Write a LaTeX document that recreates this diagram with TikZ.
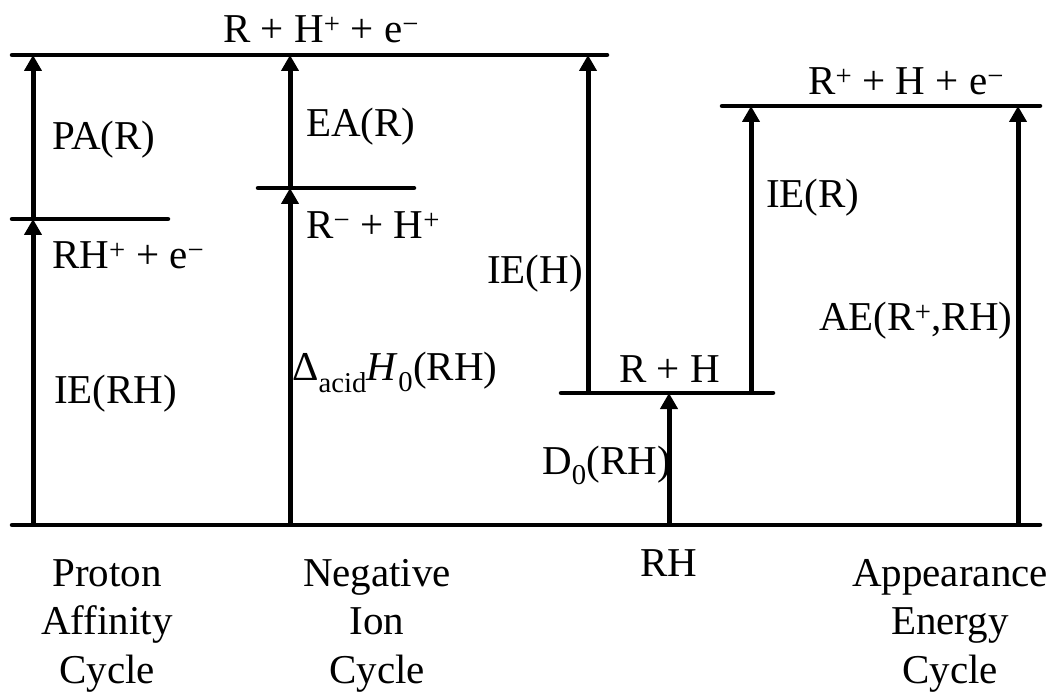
\documentclass[tikz,border=0pt]{standalone}
\usepackage{fontspec}
\setmainfont{Liberation Serif}
\usetikzlibrary{arrows.meta}
\begin{document}
\begin{tikzpicture}[x=1pt,y=-1pt,
  level/.style={line width=4.5pt, line cap=round},
  arr/.style={line width=5pt, -{Triangle[length=16pt,width=17pt]}},
  lbl/.style={inner sep=0pt, anchor=base west, font=\fontsize{41}{48}\selectfont},
  cyc/.style={inner sep=0pt, anchor=base, align=center, font=\fontsize{41}{48.5}\selectfont}]
\useasboundingbox (0,0) rectangle (1052,692);
% level coordinates
\coordinate (topL) at (12,55);   \coordinate (topR) at (607,55);
\coordinate (rhpL) at (12,219);  \coordinate (rhpR) at (168,219);
\coordinate (rmL) at (258,188);  \coordinate (rmR) at (414,188);
\coordinate (rhL) at (561,393);  \coordinate (rhR) at (773,393);
\coordinate (rpL) at (722,106);  \coordinate (rpR) at (1040,106);
\coordinate (baseL) at (12,525); \coordinate (baseR) at (1040,525);
% arrow coordinates
\coordinate (a1b) at (33,525);  \coordinate (a1m) at (33,219);  \coordinate (a1t) at (33,55);
\coordinate (a2b) at (290,525); \coordinate (a2m) at (290,188); \coordinate (a2t) at (290,55);
\coordinate (a3b) at (588,393); \coordinate (a3t) at (588,55);
\coordinate (a4b) at (669,525); \coordinate (a4t) at (669,393);
\coordinate (a5b) at (751,393); \coordinate (a5t) at (751,106);
\coordinate (a6b) at (1018,525); \coordinate (a6t) at (1018,106);
% levels
\draw[level] (topL) -- (topR);
\draw[level] (rhpL) -- (rhpR);
\draw[level] (rmL) -- (rmR);
\draw[level] (rhL) -- (rhR);
\draw[level] (rpL) -- (rpR);
\draw[level] (baseL) -- (baseR);
% arrows
\draw[arr] (a1b) -- (a1m);
\draw[arr] (a1m) -- (a1t);
\draw[arr] (a2b) -- (a2m);
\draw[arr] (a2m) -- (a2t);
\draw[arr] (a3b) -- (a3t);
\draw[arr] (a4b) -- (a4t);
\draw[arr] (a5b) -- (a5t);
\draw[arr] (a6b) -- (a6t);
% labels
\node[lbl] (ltop) at (223,43) {R + H\textsuperscript{+} + e\textsuperscript{−}};
\node[lbl] (lpa) at (52,150) {PA(R)};
\node[lbl] (lea) at (306,137) {EA(R)};
\node[lbl] (lrhp) at (52,269) {RH\textsuperscript{+} + e\textsuperscript{−}};
\node[lbl] (lrm) at (306,239) {R\textsuperscript{−} + H\textsuperscript{+}};
\node[lbl] (lierh) at (54,403) {IE(RH)};
\node[lbl] (lacid) at (292,381) {Δ\textsubscript{acid}\textit{H}\textsubscript{0}(RH)};
\node[lbl] (lieh) at (487,284) {IE(H)};
\node[lbl] (lrh2) at (619,382) {R + H};
\node[lbl] (ld0) at (542,474) {D\textsubscript{0}(RH)};
\node[lbl] (lier) at (766,208) {IE(R)};
\node[lbl] (lrp) at (808,95) {R\textsuperscript{+} + H + e\textsuperscript{−}};
\node[lbl] (lae) at (819,331) {AE(R\textsuperscript{+},RH)};
\node[lbl] (lrh) at (640,576) {RH};
% cycle names
\node[cyc] (cpa) at (107,683) {Proton\\Affinity\\Cycle};
\node[cyc] (cni) at (377,683) {Negative\\Ion\\Cycle};
\node[cyc] (cae) at (950,683) {Appearance\\Energy\\Cycle};
\end{tikzpicture}
\end{document}
